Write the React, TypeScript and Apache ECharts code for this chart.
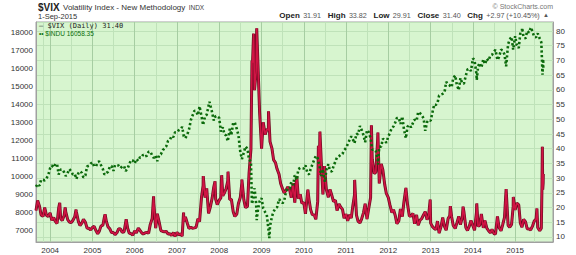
import { useEffect, useRef } from "react";
import * as echarts from "echarts";

// Semi-monthly samples (1st and 15th of each month) from 2003-09-01 to 2015-09-01
const vix2003 = [19.0, 22.4, 20.5, 17.5, 17.0, 20.0, 17.3, 17.0];
const vix2004 = [18.2, 15.7, 16.6, 15.3, 14.6, 19.8, 16.3, 15.6, 17.3, 18.5, 15.9, 15.1, 14.9, 15.6, 16.9, 18.5, 15.3, 13.9, 14.7, 16.0, 15.0, 13.0, 13.0, 12.4];
const vix2005 = [13.3, 13.6, 12.1, 11.1, 12.0, 13.7, 14.0, 17.0, 15.3, 13.5, 12.7, 11.5, 11.5, 10.8, 11.5, 12.8, 12.7, 11.6, 11.8, 15.0, 13.0, 11.3, 11.1, 10.6];
const vix2006 = [12.1, 11.4, 13.0, 12.3, 11.5, 11.0, 11.4, 11.6, 11.3, 14.2, 16.3, 21.5, 13.0, 17.9, 14.9, 12.2, 11.9, 11.8, 11.9, 11.0, 11.1, 10.5, 11.5, 10.2];
const vix2007 = [11.6, 10.7, 11.1, 10.3, 15.4, 16.8, 14.6, 12.9, 13.3, 13.0, 13.1, 13.3, 16.2, 15.2, 23.5, 27.5, 23.4, 26.5, 18.0, 20.0, 23.2, 27.0, 22.9, 21.0];
const vix2008 = [22.5, 23.3, 24.0, 25.0, 26.5, 29.0, 22.7, 22.8, 18.6, 17.0, 17.8, 21.4, 23.4, 28.5, 22.6, 20.0, 20.4, 31.7, 39.8, 69.3, 59.9, 66.3, 68.5, 52.4];
const vix2009 = [40.0, 49.0, 44.8, 46.5, 46.4, 42.4, 40.0, 36.2, 35.3, 33.1, 31.3, 28.2, 26.4, 25.0, 25.9, 27.0, 26.0, 23.4, 28.3, 21.7, 30.7, 23.0, 24.5, 21.5];
const vix2010 = [21.7, 17.9, 24.6, 22.7, 19.3, 17.6, 17.5, 16.0, 22.1, 31.2, 35.5, 24.5, 32.9, 26.1, 23.5, 26.2, 24.0, 22.0, 22.5, 19.0, 21.2, 20.2, 19.4, 16.4];
const vix2011 = [17.8, 15.5, 17.6, 16.4, 20.7, 24.3, 17.4, 15.3, 14.8, 16.1, 18.3, 21.3, 16.1, 19.5, 23.4, 36.4, 31.6, 32.0, 43.0, 28.2, 34.8, 32.8, 27.8, 24.8];
const vix2012 = [23.4, 20.9, 18.3, 19.3, 17.3, 14.5, 15.5, 19.5, 16.9, 21.9, 26.7, 21.1, 17.1, 17.1, 18.0, 14.5, 17.5, 14.0, 15.7, 16.2, 17.6, 18.6, 15.9, 17.4];
const vix2013 = [14.7, 13.6, 12.9, 12.5, 15.4, 11.3, 13.6, 16.6, 13.5, 12.3, 16.3, 17.2, 16.9, 13.9, 12.9, 14.7, 17.0, 14.2, 16.6, 18.7, 13.2, 12.2, 13.7, 15.6];
const vix2014 = [13.8, 12.3, 18.4, 13.6, 14.0, 17.8, 13.1, 15.6, 13.0, 12.2, 11.4, 12.6, 11.2, 11.0, 17.0, 13.2, 12.1, 14.1, 16.7, 26.3, 14.0, 13.3, 14.3, 20.4];
const vix2015 = [19.2, 21.5, 20.9, 14.7, 13.3, 16.0, 15.1, 12.8, 12.7, 12.4, 13.8, 15.4, 16.1, 13.2, 12.1, 13.0, 31.4];

// Extra daily closes at notable peaks
const vixPeaks: [string, number][] = [
  ["2004-03-24", 21.6], ["2004-05-10", 20.0], ["2004-08-12", 19.3],
  ["2005-04-20", 17.7], ["2005-10-19", 16.0], ["2006-06-13", 23.8],
  ["2007-02-27", 18.3], ["2007-08-16", 30.7], ["2007-11-26", 28.9],
  ["2008-01-22", 31.0], ["2008-03-17", 32.2], ["2008-07-15", 29.5],
  ["2008-10-10", 70.0], ["2008-10-24", 79.1], ["2008-11-20", 80.9],
  ["2009-03-02", 52.7], ["2010-02-05", 26.1], ["2010-05-07", 41.0],
  ["2010-05-20", 45.8], ["2010-06-29", 34.1], ["2011-03-16", 29.4],
  ["2011-08-08", 48.0], ["2011-10-03", 45.5], ["2012-12-28", 22.7],
  ["2013-06-20", 20.5], ["2013-10-08", 20.3], ["2014-02-03", 21.4],
  ["2014-12-16", 23.6], ["2015-07-08", 19.7], ["2015-08-21", 28.0],
  ["2015-08-24", 40.7], ["2015-08-25", 36.0], ["2015-08-27", 26.1],
  ["2015-08-31", 28.4],
];

const indu2003 = [9416, 9567, 9469, 9803, 9801, 9768, 9899, 10042];
const indu2004 = [10454, 10600, 10490, 10690, 10680, 10100, 10370, 10380, 10225, 10010, 10200, 10400, 10280, 10100, 10130, 9850, 10170, 10280, 10190, 9930, 10050, 10550, 10590, 10700];
const indu2005 = [10780, 10560, 10550, 10790, 10830, 10630, 10400, 10090, 10190, 10250, 10550, 10580, 10300, 10630, 10620, 10600, 10460, 10560, 10570, 10290, 10440, 10690, 10910, 10880];
const indu2006 = [10720, 10960, 10860, 11060, 11050, 11210, 11110, 11140, 11370, 11380, 11170, 11020, 11150, 10840, 11200, 11230, 11460, 11560, 11680, 11960, 12030, 12250, 12190, 12450];
const indu2007 = [12460, 12560, 12620, 12760, 12230, 12130, 12350, 12610, 13140, 13380, 13660, 13640, 13410, 13910, 13360, 12860, 13360, 13440, 13930, 14000, 13560, 13110, 13370, 13340];
const indu2008 = [13260, 12500, 12740, 12350, 12270, 11950, 12650, 12300, 13010, 12990, 12640, 12300, 11380, 10960, 11330, 11660, 11540, 10920, 10830, 8580, 9330, 8500, 8150, 8600];
const indu2009 = [8780, 8210, 8000, 7850, 7062, 7220, 7760, 8030, 8210, 8270, 8720, 8610, 8500, 8620, 9170, 9320, 9310, 9680, 9510, 10060, 9790, 10400, 10470, 10450];
const indu2010 = [10430, 10610, 10190, 10100, 10400, 10640, 10930, 11140, 11010, 10620, 10020, 10400, 9730, 10360, 10670, 10300, 10270, 10570, 10830, 11060, 11120, 11200, 11250, 11460];
const indu2011 = [11580, 11790, 12040, 12230, 12060, 11850, 12380, 12340, 12810, 12600, 12290, 11900, 12580, 12480, 12130, 11480, 11490, 11430, 10910, 11640, 11660, 12100, 12020, 11870];
const indu2012 = [12220, 12420, 12720, 12780, 13000, 13250, 13260, 12920, 13340, 12630, 12120, 12770, 12870, 12730, 12980, 13160, 13090, 13590, 13520, 13420, 13230, 12540, 13030, 13140];
const indu2013 = [13100, 13530, 14010, 13980, 14090, 14510, 14570, 14600, 14700, 15270, 15120, 15070, 14970, 15480, 15630, 15110, 14810, 15490, 15190, 15170, 15620, 15960, 16010, 15880];
const indu2014 = [16580, 16480, 15700, 16150, 16320, 16070, 16530, 16260, 16560, 16450, 16740, 16780, 16950, 17060, 16490, 16660, 17070, 17030, 16800, 16140, 17370, 17640, 17780, 17070];
const indu2015 = [17820, 17320, 17160, 18020, 18130, 17750, 17700, 18110, 18020, 18270, 18040, 17790, 17760, 17980, 17690, 17480, 16058];

const induPeaks: [string, number][] = [
  ["2007-10-09", 14164], ["2008-10-10", 8451], ["2008-11-20", 7552],
  ["2009-03-09", 6547], ["2010-07-02", 9686], ["2011-10-03", 10655],
  ["2014-02-03", 15373], ["2015-03-02", 18288], ["2015-05-19", 18312],
  ["2015-08-21", 16460], ["2015-08-24", 15871], ["2015-08-25", 15666],
  ["2015-08-31", 16528],
];

const xTickYears = ["2004", "2005", "2006", "2007", "2008", "2009", "2010", "2011", "2012", "2013", "2014", "2015"];

function sampleDate(i: number): string {
  const m = 8 + Math.floor(i / 2);
  const y = 2003 + Math.floor(m / 12);
  const mm = (m % 12) + 1;
  return `${y}-${mm < 10 ? "0" + mm : mm}-${i % 2 ? "15" : "01"}`;
}

function build(values: number[], extra: [string, number][]): [string, number][] {
  const pts: [string, number][] = values.map((v, i) => [sampleDate(i), v]);
  return pts.concat(extra).sort((a, b) => (a[0] < b[0] ? -1 : a[0] > b[0] ? 1 : 0));
}

const vixValues = [vix2003, vix2004, vix2005, vix2006, vix2007, vix2008, vix2009, vix2010, vix2011, vix2012, vix2013, vix2014, vix2015].flat();
const induValues = [indu2003, indu2004, indu2005, indu2006, indu2007, indu2008, indu2009, indu2010, indu2011, indu2012, indu2013, indu2014, indu2015].flat();

export default function App() {
  const ref = useRef<HTMLDivElement>(null);
  useEffect(() => {
    if (!ref.current) return;
    const chart = echarts.init(ref.current, null, { renderer: "svg" });
    const font = "'Liberation Sans', Arial, sans-serif";
    const vixData = build(vixValues, vixPeaks);
    chart.setOption({
      animation: false,
      backgroundColor: "#ffffff",
      textStyle: { fontFamily: font },
      grid: {
        left: 36, right: 23, top: 22, bottom: 13, show: true,
        backgroundColor: "#d7f5cf", borderColor: "#a0a0a0", borderWidth: 1,
      },
      xAxis: {
        type: "time",
        min: "2003-09-01",
        max: "2015-11-24",
        splitNumber: 12,
        minInterval: 365 * 86400000,
        maxInterval: 366 * 86400000,
        axisLine: { show: true, lineStyle: { color: "#a0a0a0" } },
        axisTick: { show: false },
        splitLine: { show: true, lineStyle: { color: "#a6cda2", width: 1 } },
        minorTick: { show: false, splitNumber: 2 },
        minorSplitLine: { show: true, lineStyle: { color: "#bfe2b9", width: 1 } },
        axisLabel: {
          fontSize: 8, color: "#333", margin: 4, showMinLabel: false, showMaxLabel: false,
          formatter: (v: number) => {
            const d = new Date(v);
            const y = String(d.getFullYear());
            return d.getMonth() === 0 && xTickYears.includes(y) ? y : "";
          },
        },
      },
      yAxis: [
        {
          type: "value", position: "left", min: 6330, max: 18614, splitNumber: 12,
          axisLine: { show: true, lineStyle: { color: "#a0a0a0" } },
          axisTick: { show: false },
          splitLine: { show: false },
          axisLabel: {
            fontSize: 8, color: "#333", margin: 3,
            formatter: (v: number) => (Math.abs(v % 1000) < 1e-6 ? String(v) : ""),
          },
        },
        {
          type: "value", position: "right", min: 8.3, max: 83.06, splitNumber: 15,
          axisLine: { show: true, lineStyle: { color: "#a0a0a0" } },
          axisTick: { show: false },
          splitLine: { show: true, lineStyle: { color: "#bfe2b9", width: 1 } },
          axisLabel: {
            fontSize: 8, color: "#333", margin: 3,
            formatter: (v: number) => (Math.abs(v % 5) < 1e-6 ? String(Math.round(v)) : ""),
          },
        },
      ],
      series: [
        {
          name: "$VIX edge", type: "line", yAxisIndex: 1, showSymbol: false,
          data: vixData, silent: true,
          lineStyle: { color: "#6e0a20", width: 3 },
          z: 2,
        },
        {
          name: "$VIX", type: "line", yAxisIndex: 1, showSymbol: false,
          data: vixData,
          lineStyle: { color: "#d01444", width: 1.6 },
          z: 3,
        },
        {
          name: "$INDU", type: "line", yAxisIndex: 0, showSymbol: false,
          data: build(induValues, induPeaks),
          lineStyle: { color: "#0b6a0b", width: 2.6, type: [2.2, 2.4] },
          z: 4,
        },
      ],
      graphic: [
        {
          type: "text", x: 38, y: 7, z: 100,
          style: {
            text: "{a|$VIX} {b|Volatility Index - New Methodology} {c|INDX}",
            verticalAlign: "middle",
            rich: {
              a: { fontSize: 10, fontWeight: "bold", fill: "#222", fontFamily: font },
              b: { fontSize: 8, fill: "#333", fontFamily: font },
              c: { fontSize: 6.5, fill: "#444", fontFamily: font },
            },
          },
        },
        {
          type: "text", x: 38, y: 16, z: 100,
          style: { text: "1-Sep-2015", fontSize: 7.5, fill: "#333", fontFamily: font, verticalAlign: "middle" },
        },
        {
          type: "text", x: 553, y: 6, z: 100,
          style: { text: "© StockCharts.com", fontSize: 7, fill: "#777", fontFamily: font, align: "right", verticalAlign: "middle" },
        },
        {
          type: "text", x: 549, y: 15, z: 100,
          style: {
            text: "{l|Open} {v|31.91}  {l|High} {v|33.82}  {l|Low} {v|29.91}  {l|Close} {v|31.40}  {l|Chg} {v|+2.97 (+10.45%)} {t|▲}",
            align: "right", verticalAlign: "middle",
            rich: {
              l: { fontSize: 8, fontWeight: "bold", fill: "#222", fontFamily: font },
              v: { fontSize: 7.2, fill: "#555", fontFamily: font },
              t: { fontSize: 6, fill: "#555", fontFamily: font },
            },
          },
        },
        {
          type: "text", x: 39, y: 26, z: 100,
          style: { text: "— $VIX (Daily) 31.40", fontSize: 7, fill: "#222", fontFamily: "'DejaVu Sans Mono', monospace", verticalAlign: "middle" },
        },
        {
          type: "text", x: 39, y: 33, z: 100,
          style: { text: "•• $INDU 16058.35", fontSize: 6.5, fill: "#0a6e0a", fontFamily: font, verticalAlign: "middle" },
        },
      ],
    });
    return () => chart.dispose();
  }, []);
  return <div ref={ref} style={{ width: 576, height: 255, position: "absolute", left: 0, top: 0 }} />;
}
